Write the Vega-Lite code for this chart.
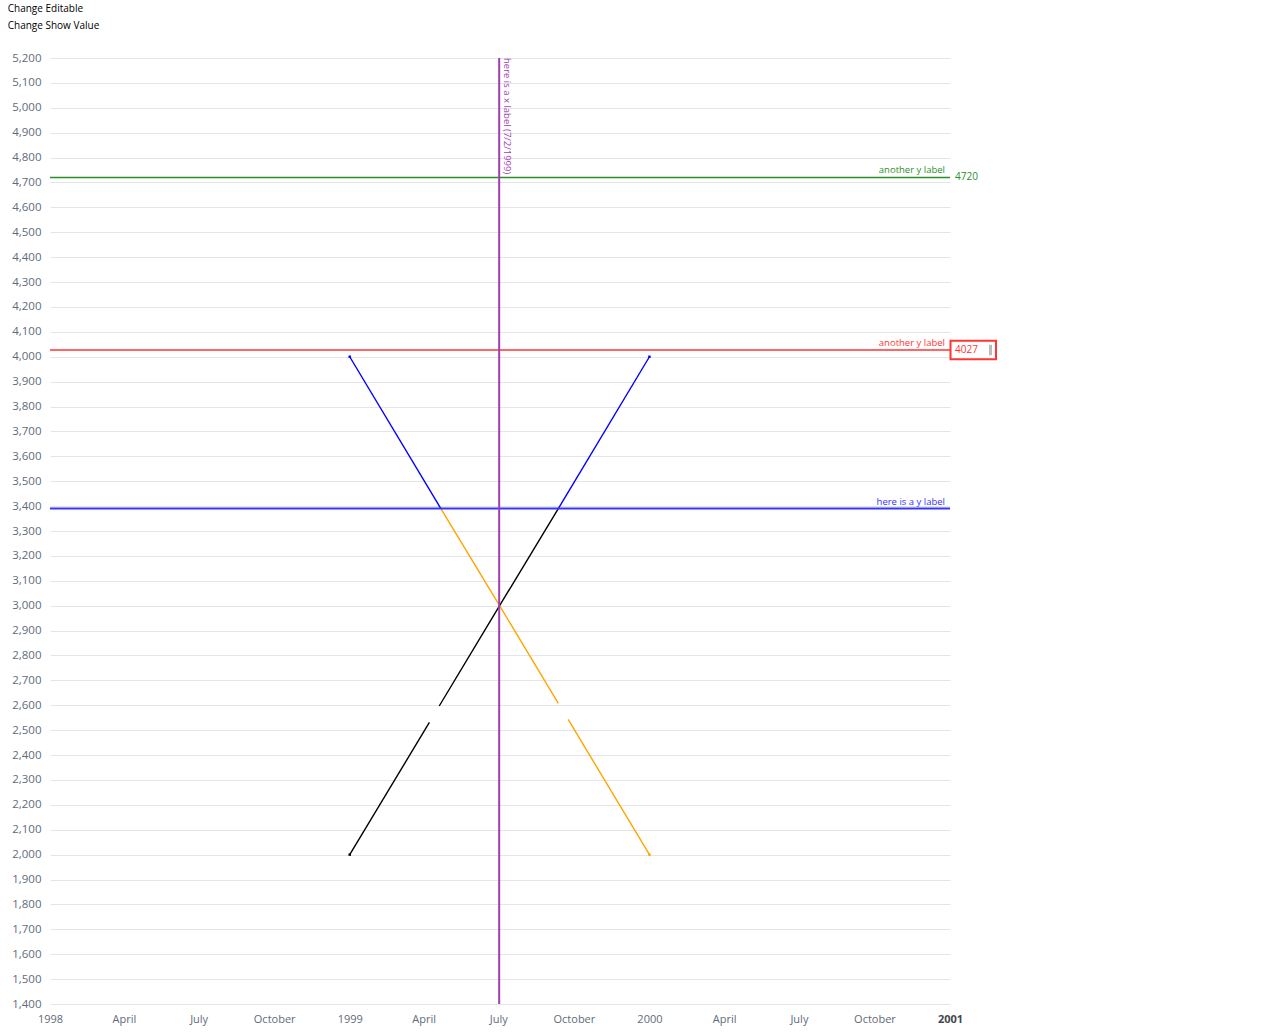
{
  "$schema": "https://vega.github.io/schema/vega-lite/v6.json",
  "width": 900,
  "height": 946,
  "autosize": "none",
  "padding": {"left": 50, "top": 58, "right": 330, "bottom": 30},
  "title": {
    "text": "Change Editable",
    "subtitle": "Change Show Value",
    "anchor": "start",
    "frame": "bounds",
    "fontSize": 10,
    "fontWeight": "normal",
    "subtitleFontSize": 10,
    "color": "#000000",
    "subtitleColor": "#000000",
    "subtitlePadding": 7,
    "offset": 21,
    "dx": -4
  },
  "config": {
    "font": "Open Sans",
    "view": {"stroke": null},
    "axis": {
      "labelColor": "#5f6b7a",
      "labelFontSize": 11,
      "domain": false,
      "ticks": false,
      "gridColor": "#e3e5e8",
      "gridWidth": 1
    }
  },
  "datasets": {
    "lines": [
      {"seg": "A1", "cat": "A above", "date": "1999-01-01T00:00:00", "value": 4000},
      {"seg": "A1", "cat": "A above", "date": "1999-04-22T00:00:00", "value": 3390},
      {"seg": "A2", "cat": "A below", "date": "1999-04-22T00:00:00", "value": 3390},
      {"seg": "A2", "cat": "A below", "date": "1999-07-02T12:00:00", "value": 3000},
      {"seg": "A2", "cat": "A below", "date": "1999-09-12T00:00:00", "value": 2608},
      {"seg": "A3", "cat": "A below", "date": "1999-09-24T00:00:00", "value": 2543},
      {"seg": "A3", "cat": "A below", "date": "2000-01-01T00:00:00", "value": 2000},
      {"seg": "B1", "cat": "B below", "date": "1999-01-01T00:00:00", "value": 2000},
      {"seg": "B1", "cat": "B below", "date": "1999-04-08T00:00:00", "value": 2531},
      {"seg": "B2", "cat": "B below", "date": "1999-04-20T00:00:00", "value": 2597},
      {"seg": "B2", "cat": "B below", "date": "1999-07-02T12:00:00", "value": 3000},
      {"seg": "B2", "cat": "B below", "date": "1999-09-12T00:00:00", "value": 3390},
      {"seg": "B3", "cat": "B above", "date": "1999-09-12T00:00:00", "value": 3390},
      {"seg": "B3", "cat": "B above", "date": "2000-01-01T00:00:00", "value": 4000}
    ],
    "ends": [
      {"cat": "A above", "date": "1999-01-01T00:00:00", "value": 4000},
      {"cat": "B below", "date": "1999-01-01T00:00:00", "value": 2000},
      {"cat": "B above", "date": "2000-01-01T00:00:00", "value": 4000},
      {"cat": "A below", "date": "2000-01-01T00:00:00", "value": 2000}
    ],
    "hrules": [
      {"cat": "green rule", "value": 4720, "label": "another y label", "valueText": "4720", "editable": false},
      {"cat": "red rule", "value": 4027, "label": "another y label", "valueText": "4027", "editable": true},
      {"cat": "blue rule", "value": 3390, "label": "here is a y label", "valueText": null, "editable": false}
    ],
    "vrules": [
      {"cat": "purple rule", "date": "1999-07-02T00:00:00", "label": "here is a x label (7/2/1999)"}
    ]
  },
  "encoding": {
    "color": {
      "field": "cat",
      "type": "nominal",
      "legend": null,
      "scale": {
        "domain": ["A above", "A below", "B above", "B below", "green rule", "red rule", "blue rule", "purple rule"],
        "range": ["#0000ff", "#ffa500", "#0000ff", "#000000", "#2a8f2a", "#ff3535", "#3434ff", "#a03fb0"]
      }
    }
  },
  "layer": [
    {
      "data": {"name": "lines"},
      "mark": {"type": "line", "strokeWidth": 1.4},
      "encoding": {
        "x": {
          "field": "date",
          "type": "temporal",
          "scale": {"domain": [{"year": 1998, "month": 1, "date": 1}, {"year": 2001, "month": 1, "date": 1}]},
          "axis": {
            "title": null,
            "grid": false,
            "labelFlush": false,
            "labelPadding": 9,
            "tickCount": {"interval": "month", "step": 3},
            "labelFontWeight": {"condition": {"test": "year(datum.value) == 2001", "value": "bold"}, "value": "normal"},
            "labelColor": {"condition": {"test": "year(datum.value) == 2001", "value": "#414750"}, "value": "#5f6b7a"}
          }
        },
        "y": {
          "field": "value",
          "type": "quantitative",
          "scale": {"domain": [1400, 5200], "nice": false, "zero": false},
          "axis": {
            "title": null,
            "format": ",d",
            "labelPadding": 9,
            "labelFontSize": 11.5,
            "labelOverlap": false,
            "tickCount": 60,
            "values": [1400,1500,1600,1700,1800,1900,2000,2100,2200,2300,2400,2500,2600,2700,2800,2900,3000,3100,3200,3300,3400,3500,3600,3700,3800,3900,4000,4100,4200,4300,4400,4500,4600,4700,4800,4900,5000,5100,5200]
          }
        },
        "detail": {"field": "seg"}
      }
    },
    {
      "data": {"name": "ends"},
      "mark": {"type": "square", "size": 6, "filled": true, "opacity": 1},
      "encoding": {
        "x": {"field": "date", "type": "temporal"},
        "y": {"field": "value", "type": "quantitative"}
      }
    },
    {
      "data": {"name": "hrules"},
      "mark": {"type": "rule"},
      "encoding": {
        "y": {"field": "value", "type": "quantitative"},
        "strokeWidth": {"condition": {"test": "datum.cat == 'blue rule'", "value": 2}, "value": 1.5}
      }
    },
    {
      "data": {"name": "vrules"},
      "mark": {"type": "rule", "strokeWidth": 2},
      "encoding": {
        "x": {"field": "date", "type": "temporal"}
      }
    },
    {
      "data": {"name": "hrules"},
      "mark": {"type": "text", "align": "right", "baseline": "bottom", "dx": -5, "dy": -2, "fontSize": 9.5},
      "encoding": {
        "x": {"datum": {"year": 2001, "month": 1, "date": 1}, "type": "temporal"},
        "y": {"field": "value", "type": "quantitative"},
        "text": {"field": "label"}
      }
    },
    {
      "data": {"name": "hrules"},
      "transform": [{"filter": "datum.valueText != null"}],
      "mark": {"type": "text", "align": "left", "baseline": "middle", "dx": 5, "dy": 0, "fontSize": 10},
      "encoding": {
        "x": {"datum": {"year": 2001, "month": 1, "date": 1}, "type": "temporal"},
        "y": {"field": "value", "type": "quantitative"},
        "text": {"field": "valueText"}
      }
    },
    {
      "data": {"name": "hrules"},
      "transform": [{"filter": "datum.editable"}],
      "mark": {"type": "point", "shape": "M0.1,-1.85 H9.2 V1.85 H0.1 Z", "size": 100, "filled": false, "strokeWidth": 2, "opacity": 1},
      "encoding": {
        "x": {"datum": {"year": 2001, "month": 1, "date": 1}, "type": "temporal"},
        "y": {"field": "value", "type": "quantitative"}
      }
    },
    {
      "data": {"name": "hrules"},
      "transform": [{"filter": "datum.editable"}],
      "mark": {"type": "point", "shape": "M7.8,-1.05 H8.4 V1.05 H7.8 Z", "size": 100, "filled": true, "opacity": 1},
      "encoding": {
        "x": {"datum": {"year": 2001, "month": 1, "date": 1}, "type": "temporal"},
        "y": {"field": "value", "type": "quantitative"},
        "color": {"value": "#bbbbbb"}
      }
    },
    {
      "data": {"name": "vrules"},
      "mark": {"type": "text", "angle": 90, "align": "left", "baseline": "bottom", "dx": 0, "dy": -3, "fontSize": 9.5},
      "encoding": {
        "x": {"field": "date", "type": "temporal"},
        "y": {"datum": 5200, "type": "quantitative"},
        "text": {"field": "label"}
      }
    }
  ]
}
